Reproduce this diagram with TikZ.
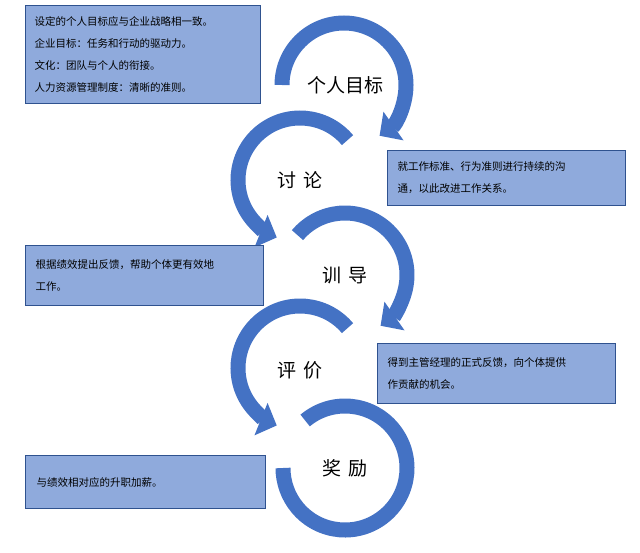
\documentclass[tikz,border=0pt]{standalone}
\usepackage{fontspec}
\setmainfont{Noto Sans CJK SC}
\usetikzlibrary{arrows.meta}
\definecolor{arc}{HTML}{4472C4}
\definecolor{boxf}{HTML}{8FAADC}
\definecolor{boxd}{HTML}{2F528F}
\begin{document}
\begin{tikzpicture}[x=1pt,y=-1pt,
  band/.style={arc,line width=15pt},
  arr/.style={band,-{Triangle[width=34pt,length=17pt]}},
  info/.style={draw=boxd,line width=1.2pt,fill=boxf,anchor=north west,align=left,inner sep=0pt,font=\fontsize{10.5}{22}\selectfont},
  lbl/.style={font=\fontsize{19}{22}\selectfont}]
\useasboundingbox (0,0) rectangle (640,552);
\draw[arr] (344,85) ++(-180:62) arc[start angle=-180,end angle=55,radius=62];
\draw[arr] (300,180) ++(-40:62) arc[start angle=-40,end angle=-248,radius=62];
\draw[arr] (345,275) ++(-140:62) arc[start angle=-140,end angle=55,radius=62];
\draw[arr] (300,368) ++(-40:62) arc[start angle=-40,end angle=-248,radius=62];
\draw[band] (345,468) ++(-130:62) arc[start angle=-130,end angle=180,radius=62];
\node[lbl] (g1) at (345,85) {个人目标};
\node[lbl] (g2) at (300,180) {讨\,\,论};
\node[lbl] (g3) at (345,275) {训\,\,导};
\node[lbl] (g4) at (300,370) {评\,\,价};
\node[lbl] (g5) at (345,468) {奖\,\,励};
\node[info,minimum width=235pt,minimum height=98pt] (b1) at (25,5) {\hspace*{7pt}\parbox{224pt}{设定的个人目标应与企业战略相一致。\\企业目标：任务和行动的驱动力。\\文化：团队与个人的衔接。\\人力资源管理制度：清晰的准则。}};
\node[info,minimum width=238pt,minimum height=55pt] (b2) at (387,150) {\hspace*{8pt}\parbox{226pt}{就工作标准、行为准则进行持续的沟\\通，以此改进工作关系。}};
\node[info,minimum width=238pt,minimum height=60pt] (b3) at (25,245) {\hspace*{8pt}\parbox{226pt}{根据绩效提出反馈，帮助个体更有效地\\工作。}};
\node[info,minimum width=238pt,minimum height=60pt] (b4) at (377,343) {\hspace*{8pt}\parbox{226pt}{得到主管经理的正式反馈，向个体提供\\作贡献的机会。}};
\node[info,minimum width=240pt,minimum height=53pt] (b5) at (25,455) {\hspace*{8pt}\parbox{226pt}{与绩效相对应的升职加薪。}};
\end{tikzpicture}
\end{document}
